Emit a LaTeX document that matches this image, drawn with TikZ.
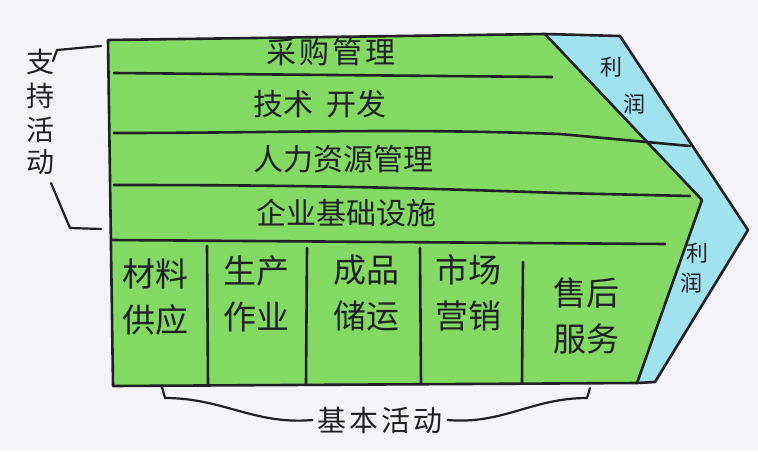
\documentclass[tikz,border=0pt]{standalone}
\usepackage{fontspec}
\newfontfamily\cjk{Noto Sans CJK SC}
\newfontfamily\cjksp{Noto Sans CJK SC}[LetterSpace=10]
\definecolor{bg}{RGB}{244,244,248}
\definecolor{mk}{RGB}{130,218,98}
\definecolor{cy}{RGB}{160,226,238}
\definecolor{ink}{RGB}{32,32,38}
\tikzset{
  inkline/.style={draw=ink, line width=2.6pt, line cap=round, line join=round},
  brace/.style={draw=ink, line width=2.2pt, line cap=round, line join=round},
  sup/.style={font=\cjk\fontsize{30}{33}\selectfont, text=ink, inner sep=0pt},
  supsp/.style={font=\cjksp\fontsize{30}{33}\selectfont, text=ink, inner sep=0pt},
  prim/.style={font=\cjk\fontsize{33}{46}\selectfont, text=ink, inner sep=0pt, align=center},
  prof/.style={font=\cjk\fontsize{22}{24}\selectfont, text=ink, inner sep=0pt},
  lab/.style={font=\cjk\fontsize{28}{30}\selectfont, text=ink, inner sep=0pt},
  labsp/.style={font=\cjksp\fontsize{29}{30}\selectfont, text=ink, inner sep=0pt},
}
\begin{document}
\begin{tikzpicture}[x=1pt,y=-1pt]
\fill[bg] (0,0) rectangle (758,451);
\useasboundingbox (0,0) rectangle (758,451);
% key points
\coordinate (TL) at (108,40);
\coordinate (TI) at (545,34);
\coordinate (TO) at (620,36);
\coordinate (IM) at (702,200);
\coordinate (TIP) at (748,230);
\coordinate (IB) at (637,383);
\coordinate (OB) at (655,382);
\coordinate (BL) at (113,386);
% fills
\fill[mk] (TL) -- (TI) -- (IM) -- (IB) -- (BL) -- cycle;
\fill[cy] (TI) -- (TO) -- (TIP) -- (OB) -- (IB) -- (IM) -- cycle;
% outline
\draw[inkline] (TL) -- (TI) -- (TO) -- (TIP) -- (OB) -- (IB) -- (BL) -- cycle;
\draw[inkline] (TI) -- (IM) -- (IB);
% support activity lines
\draw[inkline] (114,73) -- (552,77);
\draw[inkline] (114,133) to[out=0,in=178] (560,134) -- (690,146);
\draw[inkline] (114,185) to[out=0,in=178] (560,193) -- (690,196);
\draw[inkline] (112,240) -- (665,244);
% primary activity dividers
\draw[inkline] (207,246) -- (208,384);
\draw[inkline] (307,248) -- (306,384);
\draw[inkline] (420,248) -- (421,384);
\draw[inkline] (523,262) -- (522,383);
% support texts
\node[supsp] (s1) at (331,52) {采购管理};
\node[sup] (s2) at (320,104) {技术\hspace{14pt}开发};
\node[sup] (s3) at (343,159) {人力资源管理};
\node[sup] (s4) at (346,213) {企业基础设施};
% primary texts
\node[prim] (p1) at (155,297) {材料\\供应};
\node[prim] (p2) at (256,294) {生产\\作业};
\node[prim] (p3) at (366,293) {成品\\储运};
\node[prim] (p4) at (468,293) {市场\\营销};
\node[prim] (p5) at (586,316) {售后\\服务};
% profit texts
\node[prof] (r1) at (611,67) {利};
\node[prof] (r2) at (634,104) {润};
\node[prof] (r3) at (697,253) {利};
\node[prof] (r4) at (691,283) {润};
% side labels
\node[lab] (a1) at (40,62) {支};
\node[lab] (a2) at (40,96) {持};
\node[lab] (a3) at (40,130) {活};
\node[lab] (a4) at (40,162) {动};
\node[labsp] (b) at (380,420) {基本活动};
% braces
\coordinate (lb1) at (101,46);
\coordinate (lb0) at (53,61);
\coordinate (lb3) at (51,183);
\coordinate (lb2) at (101,229);
\coordinate (bb1) at (162,387);
\coordinate (bb2) at (590,388);
\draw[brace] (lb1) -- (57,50) -- (lb0);
\draw[brace] (lb3) -- (70,228) -- (lb2);
\draw[brace] (bb1) -- (165,398) to[out=0,in=185] ([xshift=-5pt]b.west);
\draw[brace] ([xshift=5pt]b.east) to[out=-5,in=180] (587,398) -- (bb2);
\end{tikzpicture}
\end{document}
